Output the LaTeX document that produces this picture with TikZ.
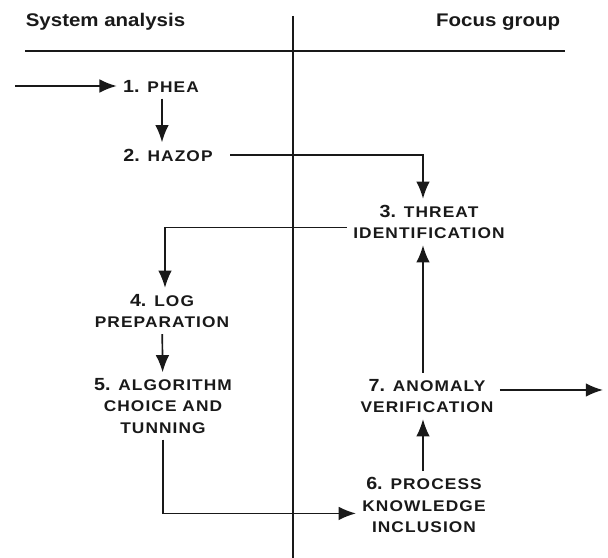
\documentclass[tikz,border=0pt]{standalone}
\usepackage{fontspec}
\setmainfont{Liberation Sans}[FakeStretch=1.12]
\newfontfamily\wordfont{Liberation Sans}[FakeStretch=1.12,LetterSpace=7]
\usetikzlibrary{arrows.meta}
\newcommand{\stepnum}[1]{{\normalfont\fontsize{12.5}{15}\selectfont\bfseries #1}}

\begin{document}
\begin{tikzpicture}[x=0.025cm,y=-0.025cm,line width=1.2pt,color=black!90,
    >={Latex[length=4.3mm,width=3.4mm]},
    stepbox/.style={align=center,inner sep=4pt,font=\wordfont\bfseries\fontsize{11}{15}\selectfont},
    headbox/.style={inner sep=0pt,font=\bfseries\fontsize{13}{15}\selectfont}]
      \useasboundingbox (0,0) rectangle (608,558);

      \node[headbox,anchor=west] (sys) at (25,22) {System analysis};
      \node[headbox,anchor=east] (foc) at (561,22) {Focus group};
      \draw[line width=0.9pt] (25,51) -- (565,51);
      \draw[line width=0.9pt] (293,16) -- (293,558);

      \node[stepbox] (1) at (161,86) {\stepnum{1.} PHEA};
      \node[stepbox] (2) at (168,155) {\stepnum{2.} HAZOP};
      \node[stepbox] (3) at (429,222) {\stepnum{3.} THREAT\\IDENTIFICATION};
      \node[stepbox] (4) at (162,311) {\stepnum{4.} LOG\\PREPARATION};
      \node[stepbox] (5) at (163,406) {\stepnum{5.} ALGORITHM\\CHOICE AND\\TUNNING};
      \node[stepbox] (6) at (424,505) {\stepnum{6.} PROCESS\\KNOWLEDGE\\INCLUSION};
      \node[stepbox] (7) at (427,396) {\stepnum{7.} ANOMALY\\VERIFICATION};
      \coordinate (in) at (15,86);
      \coordinate (out) at (603,390);

      \draw[->] (in) -- (1);
      \draw[->] (1.south -| 162,0) -- (2.north -| 162,0);
      \draw[->] ([xshift=8pt]2.east) -| (3.north -| 423,0);
      \draw[->] ([yshift=-4pt]3.west) -| (4.north -| 165,0);
      \draw[->] (4) -- (5);
      \draw[->] (5.south -| 163,0) |- ([yshift=-6pt]6.west);
      \draw[->] (6.north -| 423,0) -- (7.south -| 423,0);
      \draw[->] (7.north -| 423,0) -- (3.south -| 423,0);
      \draw[->] (7.east |- out) -- (out);
    \end{tikzpicture}
\end{document}
